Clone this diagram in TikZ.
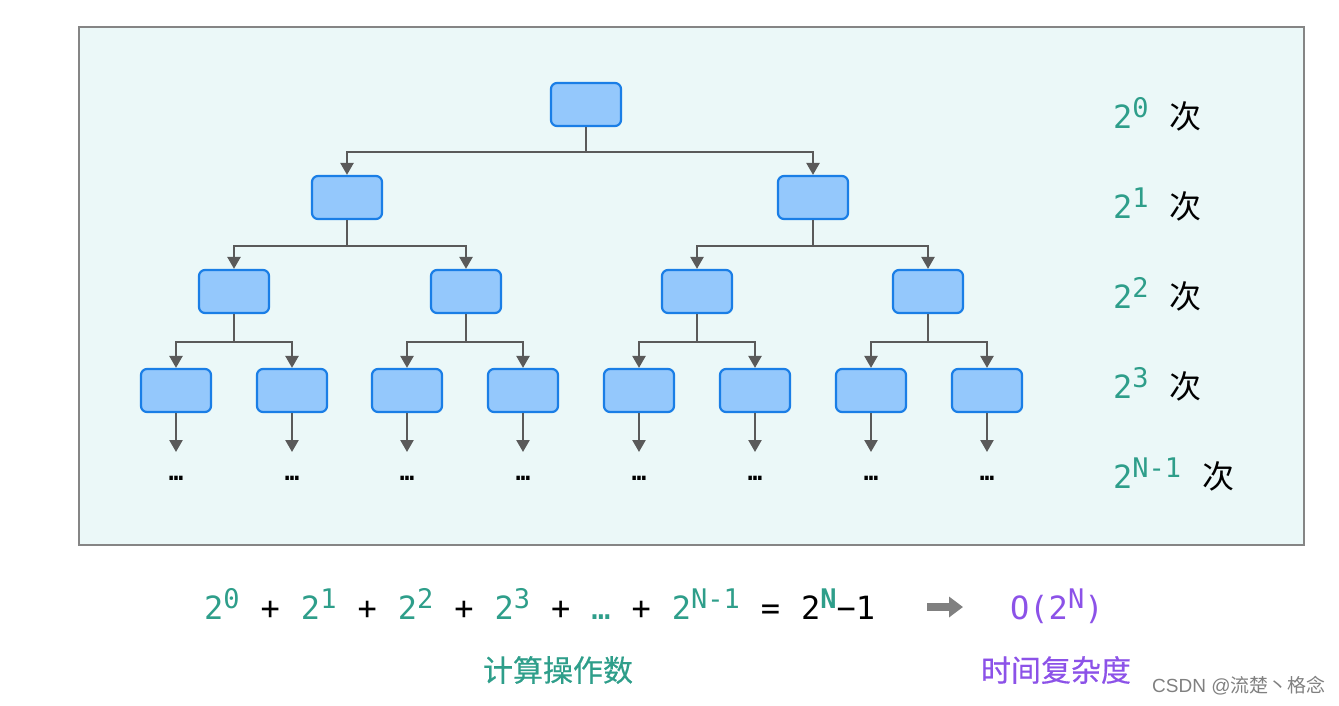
\documentclass[tikz,border=0pt]{standalone}
\usepackage{fontspec}
\setmainfont{DejaVu Sans Mono}
\newfontfamily\cjk{Noto Sans CJK SC}
\newfontfamily\cjkm{Noto Sans CJK SC}[FakeBold=0.4]
\newfontfamily\wmfont{Liberation Sans}
\usetikzlibrary{arrows.meta}

\definecolor{panelfill}{HTML}{EBF8F8}
\definecolor{panelline}{HTML}{858585}
\definecolor{boxfill}{HTML}{94C8FC}
\definecolor{boxline}{HTML}{1A7EE6}
\definecolor{connline}{HTML}{5A5A5A}
\definecolor{eqgreen}{HTML}{2E9E8A}
\definecolor{eqpurple}{HTML}{8C52E8}

\newcommand{\pw}[1]{2\raisebox{11pt}{\fontsize{27}{27}\selectfont #1}}
\newcommand{\gap}{\hspace{21pt}}

\begin{document}
\begin{tikzpicture}[x=1pt,y=-1pt,
    blk/.style={draw=boxline,fill=boxfill,line width=2.2pt,rounded corners=6pt,
                minimum width=70pt,minimum height=43pt,inner sep=0pt},
    conn/.style={draw=connline,line width=2.4pt,-{Triangle[length=12pt,width=13pt]}},
    more/.style={inner sep=0pt,font=\fontsize{24}{24}\selectfont\bfseries},
    cnt/.style={anchor=base west,inner sep=0pt,text=eqgreen,font=\fontsize{32}{36}\selectfont},
    fatarrow/.style={draw=gray,line width=8pt,-{Triangle[length=14pt,width=20pt]}}]

    \useasboundingbox (0,0) rectangle (1339,705);

    % panel
    \draw[fill=panelfill,draw=panelline,line width=2pt] (79,27) rectangle (1304,545);

    % tree
    \path   (586,104.5) node (r)  [blk] {}
            (347,197.5) node (a1) [blk] {}
            (813,197.5) node (a2) [blk] {}
            (234,291.5) node (b1) [blk] {}
            (466,291.5) node (b2) [blk] {}
            (697,291.5) node (b3) [blk] {}
            (928,291.5) node (b4) [blk] {}
            (176,390.5) node (c1) [blk] {}
            (292,390.5) node (c2) [blk] {}
            (407,390.5) node (c3) [blk] {}
            (523,390.5) node (c4) [blk] {}
            (639,390.5) node (c5) [blk] {}
            (755,390.5) node (c6) [blk] {}
            (871,390.5) node (c7) [blk] {}
            (987,390.5) node (c8) [blk] {};

    \path   (176,478) node (d1) [more] {…}
            (292,478) node (d2) [more] {…}
            (407,478) node (d3) [more] {…}
            (523,478) node (d4) [more] {…}
            (639,478) node (d5) [more] {…}
            (755,478) node (d6) [more] {…}
            (871,478) node (d7) [more] {…}
            (987,478) node (d8) [more] {…};

    \draw[conn] (r.south) -- ++(0,25) -| (a1.north);
    \draw[conn] (r.south) -- ++(0,25) -| (a2.north);
    \draw[conn] (a1.south) -- ++(0,26) -| (b1.north);
    \draw[conn] (a1.south) -- ++(0,26) -| (b2.north);
    \draw[conn] (a2.south) -- ++(0,26) -| (b3.north);
    \draw[conn] (a2.south) -- ++(0,26) -| (b4.north);
    \draw[conn] (b1.south) -- ++(0,28) -| (c1.north);
    \draw[conn] (b1.south) -- ++(0,28) -| (c2.north);
    \draw[conn] (b2.south) -- ++(0,28) -| (c3.north);
    \draw[conn] (b2.south) -- ++(0,28) -| (c4.north);
    \draw[conn] (b3.south) -- ++(0,28) -| (c5.north);
    \draw[conn] (b3.south) -- ++(0,28) -| (c6.north);
    \draw[conn] (b4.south) -- ++(0,28) -| (c7.north);
    \draw[conn] (b4.south) -- ++(0,28) -| (c8.north);

    \draw[conn] (c1.south) -- ([yshift=26pt]d1.center);
    \draw[conn] (c2.south) -- ([yshift=26pt]d2.center);
    \draw[conn] (c3.south) -- ([yshift=26pt]d3.center);
    \draw[conn] (c4.south) -- ([yshift=26pt]d4.center);
    \draw[conn] (c5.south) -- ([yshift=26pt]d5.center);
    \draw[conn] (c6.south) -- ([yshift=26pt]d6.center);
    \draw[conn] (c7.south) -- ([yshift=26pt]d7.center);
    \draw[conn] (c8.south) -- ([yshift=26pt]d8.center);

    % counts per level
    \node (n0) [cnt] at (1113,128) {\pw{0}\gap\textcolor{black}{\cjk 次}};
    \node (n1) [cnt] at (1113,218) {\pw{1}\gap\textcolor{black}{\cjk 次}};
    \node (n2) [cnt] at (1113,308) {\pw{2}\gap\textcolor{black}{\cjk 次}};
    \node (n3) [cnt] at (1113,398) {\pw{3}\gap\textcolor{black}{\cjk 次}};
    \node (n4) [cnt] at (1113,488) {\pw{N-1}\gap\textcolor{black}{\cjk 次}};

    % sum
    \node (sum) [cnt,text=black] at (204,619)
    {
    \textcolor{eqgreen}{\pw{0}}\gap+\gap\textcolor{eqgreen}{\pw{1}}\gap+\gap\textcolor{eqgreen}{\pw{2}}\gap+\gap\textcolor{eqgreen}{\pw{3}}\gap+\gap\textcolor{eqgreen}{…}\gap+\gap\textcolor{eqgreen}{\pw{N-1}}\gap=\gap2\raisebox{11pt}{\fontsize{27}{27}\selectfont\bfseries\color{eqgreen}N}−1
    };

    \coordinate (from) at (927,607);
    \coordinate (to) at (963,607);
    \draw[fatarrow] (from) -- (to);

    \node (big) [cnt,text=eqpurple] at (1010,619) {O(\pw{N})};

    \node (ops) [text=eqgreen,font=\fontsize{30}{30}\selectfont\cjkm] at (558,670) {计算操作数};
    \node (tc) [text=eqpurple,font=\fontsize{30}{30}\selectfont\cjkm] at (1056,670) {时间复杂度};

    \node (wm) [anchor=west,inner sep=0pt,text=gray,font=\fontsize{19}{19}\selectfont\wmfont] at (1152,686) {CSDN @{\cjk 流楚丶格念}};

\end{tikzpicture}
\end{document}
